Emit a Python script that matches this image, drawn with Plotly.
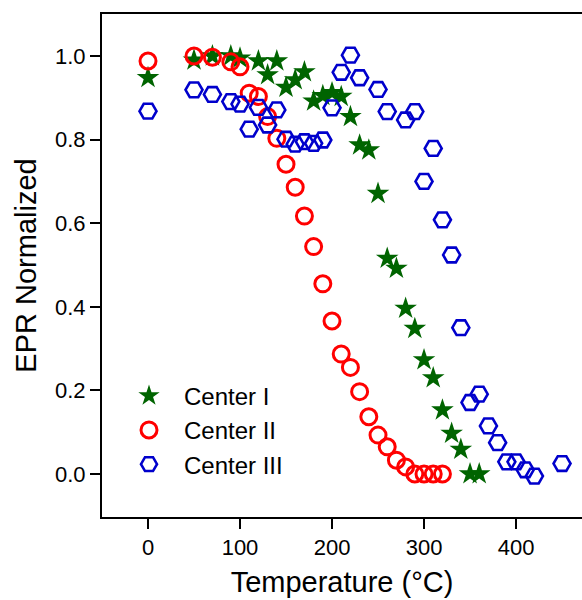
import plotly.graph_objects as go

# Center I (green stars)
t_center1 = [0, 50, 70, 90, 100, 120, 130, 140, 150, 160, 170, 180, 190, 200, 210,
             220, 230, 240, 250, 260, 270, 280, 290, 300, 310, 320, 330, 340, 350, 360]
epr_center1 = [0.948, 0.99, 1.0, 1.0, 0.995, 0.988, 0.955, 0.988, 0.925, 0.943, 0.962,
               0.892, 0.905, 0.912, 0.903, 0.855, 0.787, 0.775, 0.671, 0.516, 0.492,
               0.396, 0.348, 0.273, 0.230, 0.153, 0.097, 0.059, 0.0, 0.0]

# Center II (red open circles)
t_center2 = [0, 50, 70, 90, 100, 110, 120, 130, 140, 150, 160, 170, 180, 190, 200,
             210, 220, 230, 240, 250, 260, 270, 280, 290, 300, 310, 320]
epr_center2 = [0.988, 1.0, 0.997, 0.986, 0.974, 0.911, 0.903, 0.855, 0.803, 0.741,
               0.686, 0.617, 0.544, 0.455, 0.366, 0.287, 0.255, 0.197, 0.137, 0.093,
               0.065, 0.033, 0.017, 0.0, 0.0, 0.0, 0.0]

# Center III (blue open hexagons)
t_center3 = [0, 50, 70, 90, 100, 110, 120, 130, 140, 150, 160, 170, 180, 190, 200,
             210, 220, 230, 250, 260, 280, 290, 300, 310, 320, 330, 340, 350, 360,
             370, 380, 390, 400, 410, 420, 450]
epr_center3 = [0.868, 0.919, 0.908, 0.891, 0.885, 0.825, 0.877, 0.835, 0.871, 0.801,
               0.789, 0.795, 0.791, 0.799, 0.876, 0.961, 1.002, 0.948, 0.920, 0.867,
               0.847, 0.867, 0.700, 0.779, 0.608, 0.524, 0.350, 0.171, 0.191, 0.115,
               0.075, 0.029, 0.029, 0.010, -0.005, 0.025]

series_names = ["Center I", "Center II", "Center III"]
x_ticks = [0, 100, 200, 300, 400]
y_ticks = [0.0, 0.2, 0.4, 0.6, 0.8, 1.0]

FONT = "Liberation Sans, Arial, sans-serif"

fig = go.Figure()
fig.add_trace(go.Scatter(
    x=t_center1, y=epr_center1, mode="markers", name=series_names[0],
    marker=dict(symbol="star", size=17, color="#006400", line=dict(width=0)),
))
fig.add_trace(go.Scatter(
    x=t_center2, y=epr_center2, mode="markers", name=series_names[1],
    marker=dict(symbol="circle-open", size=16, color="#FF0000", line=dict(width=3)),
))
fig.add_trace(go.Scatter(
    x=t_center3, y=epr_center3, mode="markers", name=series_names[2],
    marker=dict(symbol="hexagon2-open", size=17, color="#0000CC", line=dict(width=2.6)),
))

axis_common = dict(
    showgrid=False, zeroline=False, showline=True, linecolor="black", linewidth=2,
    ticks="outside", ticklen=10, tickwidth=2, tickcolor="black",
    tickfont=dict(family=FONT, size=22, color="black"),
)

fig.update_layout(
    width=582, height=600,
    margin=dict(l=102, r=0, t=14, b=83),
    paper_bgcolor="white", plot_bgcolor="white",
    font=dict(family=FONT, color="black"),
    xaxis=dict(
        range=[-50, 471.7], tickvals=x_ticks, ticktext=[str(v) for v in x_ticks],
        mirror=True,
        title=dict(text="Temperature (°C)", font=dict(family=FONT, size=29), standoff=12),
        **axis_common,
    ),
    yaxis=dict(
        range=[-0.1029, 1.1005], tickvals=y_ticks, ticktext=[f"{v:.1f}" for v in y_ticks],
        title=dict(text="EPR Normalized", font=dict(family=FONT, size=29), standoff=10),
        **axis_common,
    ),
    legend=dict(
        x=0.025, y=0.285, xanchor="left", yanchor="top",
        bgcolor="rgba(0,0,0,0)", font=dict(family=FONT, size=24, color="black"),
        itemwidth=60, tracegroupgap=0,
    ),
    showlegend=True,
)

fig.write_html("out.html")
